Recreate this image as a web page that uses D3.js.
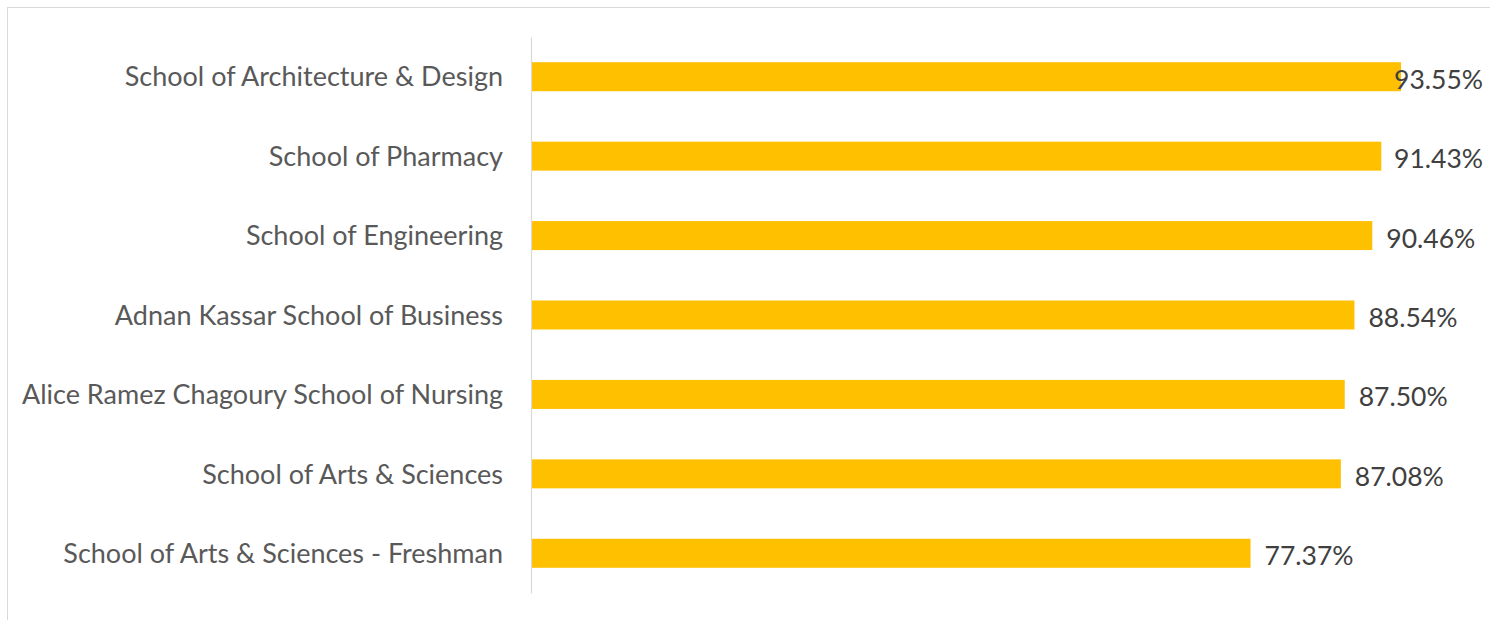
<!DOCTYPE html>
<html><head><meta charset="utf-8">
<script src="https://cdn.jsdelivr.net/npm/d3@7/dist/d3.min.js"></script>
<style>html,body{margin:0;padding:0;background:#fff;}svg{display:block;}</style>
</head><body>
<svg id="chart" width="1490" height="620"></svg>
<script>
const categories = [
  "School of Architecture & Design",
  "School of Pharmacy",
  "School of Engineering",
  "Adnan Kassar School of Business",
  "Alice Ramez Chagoury School of Nursing",
  "School of Arts & Sciences",
  "School of Arts & Sciences - Freshman"
];
const values = [93.55, 91.43, 90.46, 88.54, 87.50, 87.08, 77.37];
const valueLabels = ["93.55%", "91.43%", "90.46%", "88.54%", "87.50%", "87.08%", "77.37%"];

const svg = d3.select("#chart");
const plot = {left: 531, right: 1461, top: 37, bottom: 593};

svg.append("rect").attr("x", 7.5).attr("y", 7.5).attr("width", 1600).attr("height", 800)
  .attr("fill", "#fff").attr("stroke", "#d9d9d9").attr("stroke-width", 1);

const x = d3.scaleLinear().domain([0, 100]).range([plot.left, plot.right]);
const y = d3.scaleBand().domain(categories).range([plot.top, plot.bottom])
  .paddingInner(0.635).paddingOuter(0.3175);

const font = "Lato, 'Open Sans', sans-serif";

svg.selectAll("rect.bar").data(values).enter().append("rect")
  .attr("class", "bar")
  .attr("x", x(0))
  .attr("y", (d, i) => y(categories[i]))
  .attr("width", d => x(d) - x(0))
  .attr("height", y.bandwidth())
  .attr("fill", "#FFC000");

const yAxis = d3.axisLeft(y).tickSize(0).tickPadding(28);
const g = svg.append("g").attr("transform", `translate(${plot.left},0)`).call(yAxis);
g.select(".domain").attr("stroke", "#d9d9d9").attr("stroke-width", 1.2);
g.selectAll("text").attr("fill", "#595959").attr("dy", "0.36em")
  .style("font-family", font).style("font-size", "27px");

const labels = svg.selectAll("text.val").data(values).enter().append("text")
  .attr("class", "val")
  .attr("y", (d, i) => y(categories[i]) + y.bandwidth() / 2 + 2)
  .attr("dominant-baseline", "central")
  .attr("fill", "#404040")
  .style("font-family", font).style("font-size", "26.5px")
  .text((d, i) => valueLabels[i]);
labels.each(function(d) {
  const w = this.getComputedTextLength();
  let lx = x(d) + 14;
  if (lx + w > 1483) lx = 1483 - w;
  d3.select(this).attr("x", lx);
});
</script>
</body></html>
